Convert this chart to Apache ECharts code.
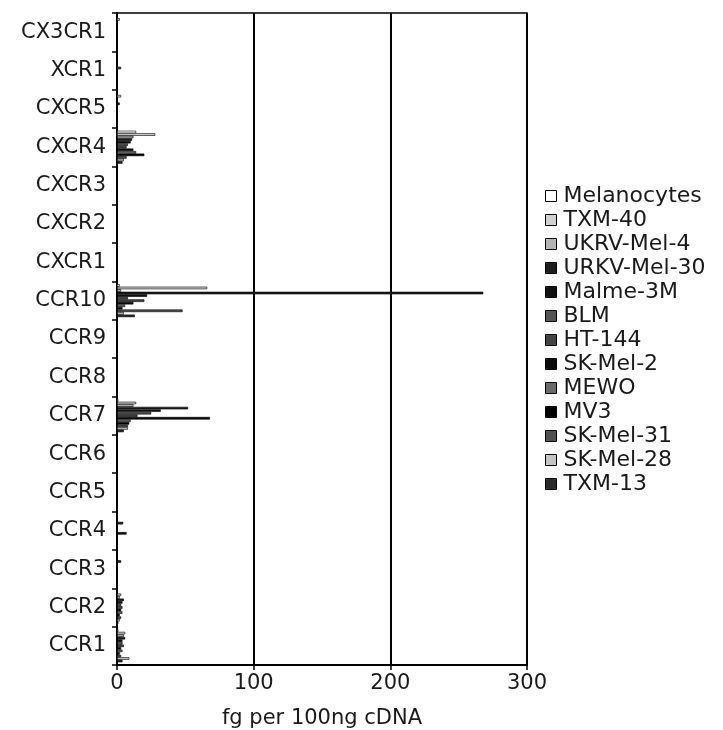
<!DOCTYPE html>
<html>
<head>
<meta charset="utf-8">
<script src="https://cdn.jsdelivr.net/npm/echarts@6/dist/echarts.min.js"></script>
<style>html,body{margin:0;padding:0;background:#fff;}#c{width:723px;height:730px;}</style>
</head>
<body>
<div id="c"></div>
<script>
// categories, top to bottom
const categories = ['CX3CR1','XCR1','CXCR5','CXCR4','CXCR3','CXCR2','CXCR1','CCR10','CCR9','CCR8','CCR7','CCR6','CCR5','CCR4','CCR3','CCR2','CCR1'];
const xTicks = [0, 100, 200, 300];
const seriesNames = ['Melanocytes','TXM-40','UKRV-Mel-4','URKV-Mel-30','Malme-3M','BLM','HT-144','SK-Mel-2','MEWO','MV3','SK-Mel-31','SK-Mel-28','TXM-13'];
const melanocytes = [0,0,0,14,0,0,0,2,0,0,1,0,0,0,0,0,1];
const txm40       = [2,0,3,28,0,0,0,66,0,0,14,0,0,0,0,3,6];
const ukrvMel4    = [0,0,0,12,0,0,0,3,0,0,12,0,0,0,0,2,5];
const urkvMel30   = [0,0,0,11,0,0,0,268,0,0,52,0,0,4.5,3,5,6];
const malme3M     = [0,0,2,10,0,0,0,22,0,0,32,0,0,0,0,4,4];
const blm         = [0,3,0,8,0,0,0,8,0,0,25,0,0,0,0,3,4];
const ht144       = [0,0,0,7,0,0,0,20,0,0,15,0,0,0,0,4,5];
const skMel2      = [0,0,0,12,0,0,0,12,0,0,68,0,0,7,0,3,3];
const mewo        = [0,0,0,14,0,0,0,6,0,0,10,0,0,0,0,4,4];
const mv3         = [0,0,0,20,0,0,0,4,0,0,9,0,0,0,0,2,2];
const skMel31     = [0,0,0,7,0,0,0,48,0,0,8,0,0,0,0,3,3];
const skMel28     = [0,0,0,5,0,0,0,5,0,0,8,0,0,0,0,2,9];
const txm13       = [0,0,0,4,0,0,0,13,0,0,5,0,0,0,0,1,4];

const seriesData = [melanocytes, txm40, ukrvMel4, urkvMel30, malme3M, blm, ht144, skMel2, mewo, mv3, skMel31, skMel28, txm13];
const colors = ['#ffffff','#cfcfcf','#b4b4b4','#1e1e1e','#111111','#555555','#444444','#0c0c0c','#6a6a6a','#000000','#505050','#c4c4c4','#2a2a2a'];

const FONT = 'DejaVu Sans';
const chart = echarts.init(document.getElementById('c'), null, {renderer: 'canvas'});
chart.setOption({
  animation: false,
  backgroundColor: '#fff',
  grid: {left: 117, top: 13, right: 196, bottom: 65, show: true, borderColor: '#000', borderWidth: 1.5, containLabel: false, outerBoundsMode: 'none'},
  xAxis: {
    type: 'value', min: xTicks[0], max: xTicks[xTicks.length - 1], interval: 100,
    axisLine: {show: true, lineStyle: {color: '#000', width: 2}},
    axisTick: {show: true, length: 5, lineStyle: {color: '#000', width: 1.5}},
    splitLine: {show: true, lineStyle: {color: '#000', width: 2}},
    axisLabel: {color: '#1a1a1a', fontFamily: FONT, fontSize: 21, margin: 8},
    name: 'fg per 100ng cDNA', nameLocation: 'middle', nameGap: 43,
    nameTextStyle: {color: '#1a1a1a', fontFamily: FONT, fontSize: 21}
  },
  yAxis: {
    type: 'category', data: categories, inverse: true,
    axisLine: {show: true, lineStyle: {color: '#000', width: 2}},
    axisTick: {show: true, length: 5, lineStyle: {color: '#000', width: 1.5}},
    axisLabel: {color: '#1a1a1a', fontFamily: FONT, fontSize: 21, margin: 11},
    splitLine: {show: false}
  },
  legend: {
    orient: 'vertical', left: 540, top: 180, itemWidth: 11, itemHeight: 11, itemGap: 2,
    icon: 'rect',
    data: seriesNames,
    textStyle: {color: '#1a1a1a', fontFamily: FONT, fontSize: 22, lineHeight: 21, padding: [0,0,0,2]},
    itemStyle: {borderColor: '#000', borderWidth: 1}
  },
  series: seriesNames.map((n, i) => ({
    name: n, type: 'bar', data: seriesData[i],
    barGap: '0%', barCategoryGap: '14%',
    itemStyle: {color: colors[i], borderColor: '#000', borderWidth: 0.6}
  }))
});
</script>
</body>
</html>
